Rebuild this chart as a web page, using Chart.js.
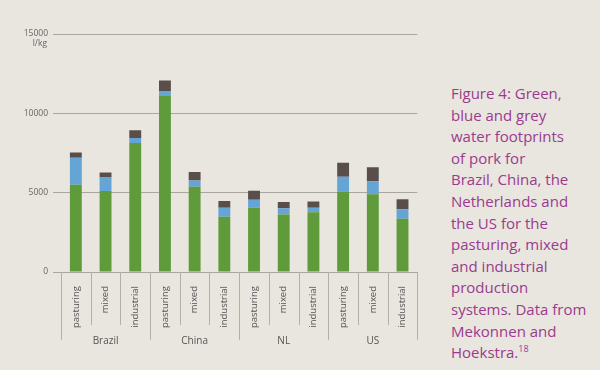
<!DOCTYPE html>
<html lang="en">
<head>
  <meta charset="UTF-8" />
  <title>Water footprint of pork</title>
  <script src="https://cdn.jsdelivr.net/npm/chart.js"></script>
  <style>
    html, body {
      margin: 0;
      padding: 0;
      background: #e9e5df;
    }
    .wrap {
      position: relative;
      width: 600px;
      height: 370px;
      overflow: hidden;
    }
    .chart-box {
      position: absolute;
      left: 0;
      top: 0;
      width: 420px;
      height: 370px;
    }
    .caption {
      position: absolute;
      left: 451px;
      top: 83px;
      width: 150px;
      font-family: "Open Sans", sans-serif;
      font-size: 15px;
      line-height: 21.6px;
      color: #9a3b8e;
    }
    .caption sup {
      font-size: 9px;
      vertical-align: 6px;
      line-height: 0;
    }
  </style>
</head>
<body>
  <div class="wrap">
    <div class="chart-box"><canvas id="wfChart" width="420" height="370"></canvas></div>
    <div class="caption">
      Figure 4: Green,<br>blue and grey<br>water footprints<br>of pork for<br>Brazil, China, the<br>Netherlands and<br>the US for the<br>pasturing, mixed<br>and industrial<br>production<br>systems. Data from<br>Mekonnen and<br>Hoekstra.<sup>18</sup>
    </div>
  </div>

  <script>
    // data (l/kg)
    const countries = ['Brazil', 'China', 'NL', 'US'];
    const systems = ['pasturing', 'mixed', 'industrial'];
    const labels = countries.flatMap(() => systems);

    const greenWater = [5500, 5100, 8130, 11100, 5370, 3480, 4050, 3630, 3760, 5080, 4900, 3350];
    const blueWater  = [1700,  860,  320,   300,  400,  570,  500,  380,  290,  920,  820,  610];
    const greyWater  = [ 330,  310,  480,   670,  540,  420,  570,  400,  400,  880,  880,  630];

    const yTicks = [0, 5000, 10000, 15000];

    // separators + country names under the axis
    const groupPlugin = {
      id: 'groups',
      afterDraw(chart) {
        const ctx = chart.ctx;
        const x = chart.scales.x;
        const bottom = chart.chartArea.bottom;
        const band = (x.right - x.left) / labels.length;
        ctx.save();
        ctx.strokeStyle = '#b5afa9';
        ctx.lineWidth = 1;
        for (let i = 0; i <= labels.length; i++) {
          const px = Math.round(x.left + i * band) + 0.5;
          const len = i % 3 === 0 ? 68 : 53;
          ctx.beginPath();
          ctx.moveTo(px, bottom);
          ctx.lineTo(px, bottom + len);
          ctx.stroke();
        }
        ctx.fillStyle = '#555';
        ctx.font = '10px "Open Sans", sans-serif';
        ctx.textAlign = 'center';
        ctx.textBaseline = 'middle';
        countries.forEach((c, g) => {
          const cx = x.left + (g * 3 + 1.5) * band;
          ctx.fillText(c, cx, bottom + 69);
        });
        // unit under the top tick
        const y = chart.scales.y;
        ctx.fillStyle = '#666';
        ctx.font = '8.5px "Open Sans", sans-serif';
        ctx.textAlign = 'right';
        ctx.fillText('l/kg', 47, y.getPixelForValue(15000) + 10);
        ctx.restore();
      }
    };

    new Chart(document.getElementById('wfChart'), {
      type: 'bar',
      data: {
        labels: labels,
        datasets: [
          { label: 'green', data: greenWater, backgroundColor: '#5f9a3b' },
          { label: 'blue', data: blueWater, backgroundColor: '#64a5d6' },
          { label: 'grey', data: greyWater, backgroundColor: '#5a4e4b' }
        ]
      },
      options: {
        responsive: false,
        animation: false,
        layout: { padding: { top: 34, right: 2, left: 0, bottom: 0 } },
        datasets: { bar: { categoryPercentage: 1, barPercentage: 0.4 } },
        plugins: { legend: { display: false }, tooltip: { enabled: false } },
        scales: {
          x: {
            stacked: true,
            grid: { display: false },
            border: { display: false },
            ticks: {
              autoSkip: false,
              minRotation: 90,
              maxRotation: 90,
              padding: 6,
              color: '#555',
              font: { family: '"Open Sans", sans-serif', size: 9.5 }
            },
            afterFit(scale) { scale.height = 98; }
          },
          y: {
            stacked: true,
            min: 0,
            max: 15000,
            afterBuildTicks(scale) { scale.ticks = yTicks.map(v => ({ value: v })); },
            grid: { color: '#aba59f', lineWidth: 1, tickLength: 8, tickColor: '#aba59f' },
            border: { display: false },
            ticks: {
              padding: 5,
              color: '#666',
              font: { family: '"Open Sans", sans-serif', size: 8.5 },
              callback: v => String(v)
            },
            afterFit(scale) { scale.width = 61; }
          }
        }
      },
      plugins: [groupPlugin]
    });
  </script>
</body>
</html>
